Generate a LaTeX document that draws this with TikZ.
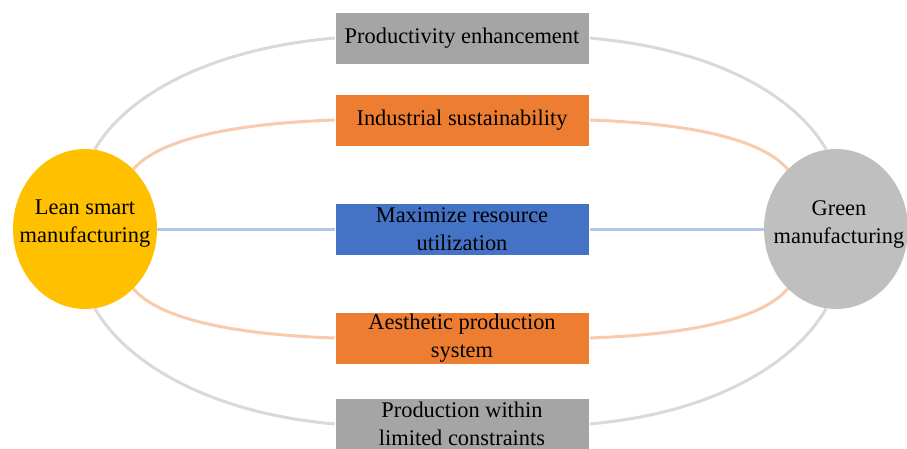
\documentclass[tikz,border=0pt]{standalone}
\usepackage{fontspec}
\setmainfont{Liberation Serif}
\usetikzlibrary{shapes.geometric}
\definecolor{boxgray}{HTML}{A5A5A5}
\definecolor{boxorange}{HTML}{ED7D31}
\definecolor{boxblue}{HTML}{4472C4}
\definecolor{leanyellow}{HTML}{FFC000}
\definecolor{greengray}{HTML}{BFBFBF}
\definecolor{lgray}{HTML}{D9D9D9}
\definecolor{lorange}{HTML}{F8CBAD}
\definecolor{lblue}{HTML}{B4C7E7}
\tikzset{
  txt/.style={font=\fontsize{22.4}{28}\selectfont, align=center},
  hub/.style={ellipse, minimum width=144pt, minimum height=160pt, inner sep=0pt, draw=none},
  card/.style={rectangle, minimum width=254pt, minimum height=52pt, inner sep=0pt, draw=white, line width=0.6pt, txt},
  gline/.style={draw=lgray, line width=3pt},
  oline/.style={draw=lorange, line width=3pt},
  bline/.style={draw=lblue, line width=3pt}
}
\begin{document}
\begin{tikzpicture}[x=1pt,y=1pt]
\clip (0,0) rectangle (907,448);
% connectors (drawn first, under the shapes)
\coordinate (c0) at (0,0);
\node[hub] (L) at (85,219) {};
\node[hub] (R) at (836,219) {};
\node[card, draw=none] (b1) at (462,410) {};
\node[card, draw=none] (b2) at (462,328) {};
\node[card, draw=none] (b3) at (462,219) {};
\node[card, draw=none] (b4) at (462,110) {};
\node[card, draw=none] (b5) at (462,24) {};
\draw[gline] (L.83) .. controls +(60:60) and +(185:130) .. (b1.west);
\draw[gline] (b1.east) .. controls +(-5:130) and +(120:60) .. (R.97);
\draw[gline] (L.-83) .. controls +(-60:60) and +(175:130) .. (b5.west);
\draw[gline] (b5.east) .. controls +(5:130) and +(-120:60) .. (R.-97);
\draw[oline] (L.51) .. controls +(50:40) and +(182:100) .. (b2.west);
\draw[oline] (b2.east) .. controls +(-2:100) and +(130:40) .. (R.129);
\draw[oline] (L.-51) .. controls +(-50:40) and +(178:100) .. (b4.west);
\draw[oline] (b4.east) .. controls +(2:100) and +(-130:40) .. (R.-129);
\draw[bline] (L.east) -- (b3.west);
\draw[bline] (b3.east) -- (R.west);
% shapes
\node[hub, fill=leanyellow] (Lf) at (L) {};
\node[hub, fill=greengray] (Rf) at (R) {};
\node[card, fill=boxgray] (t1) at (b1) {Productivity enhancement};
\node[card, fill=boxorange] (t2) at (b2) {Industrial sustainability};
\node[card, fill=boxblue] (t3) at (b3) {Maximize resource\\utilization};
\node[card, fill=boxorange] (t4) at (b4) {Aesthetic production\\system};
\node[card, fill=boxgray] (t5) at (b5) {Production within\\limited constraints};
\node[txt] (Lt) at (85,224) {Lean smart\\manufacturing};
\node[txt] (Rt) at (839,224) {Green\\manufacturing};
\end{tikzpicture}
\end{document}
